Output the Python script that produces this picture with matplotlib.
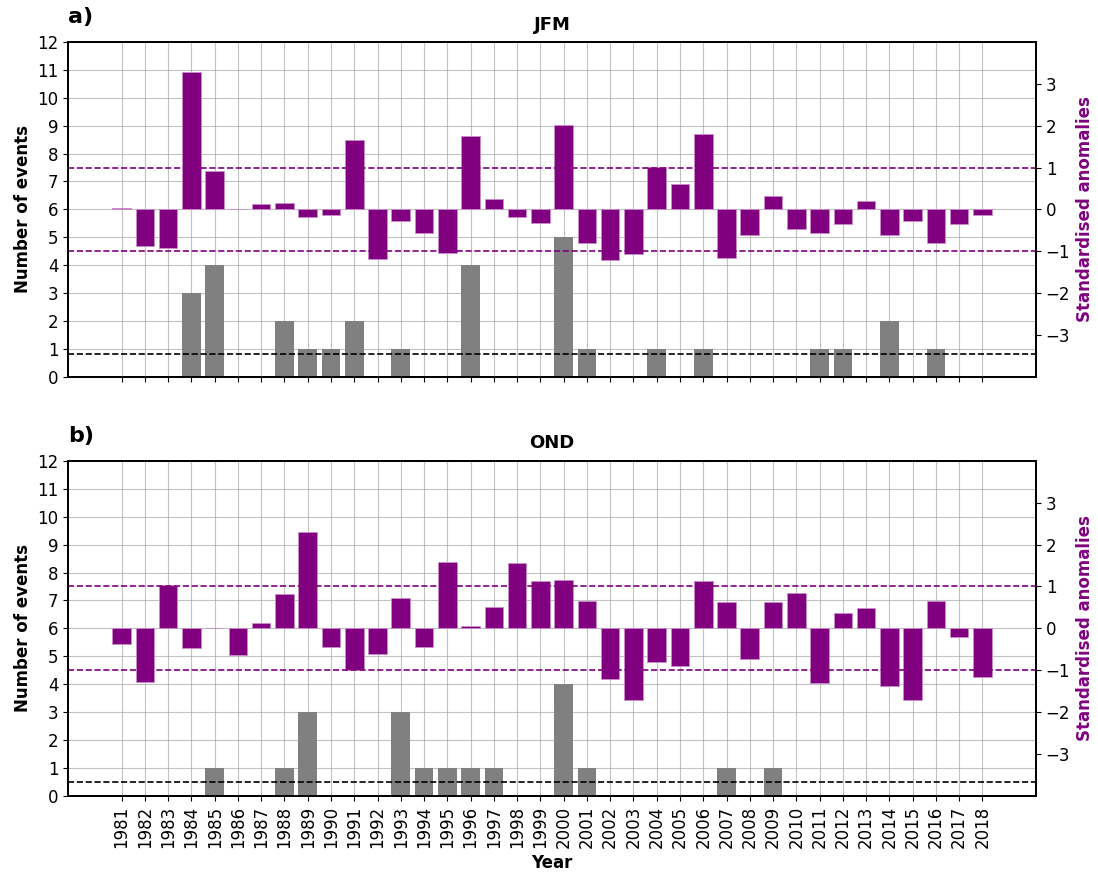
import numpy as np
import matplotlib.pyplot as plt

# years and data
years = np.arange(1981, 2019)

jfm_counts = [0, 0, 0, 3, 4, 0, 0, 2, 1, 1, 2, 0, 1, 0, 0, 4, 0, 0, 0, 5,
              1, 0, 0, 1, 0, 1, 0, 0, 0, 0, 1, 1, 0, 2, 0, 1, 0, 0]
jfm_anom = [0.03, -0.88, -0.92, 3.28, 0.91, 0.01, 0.14, 0.15, -0.19, -0.13,
            1.67, -1.18, -0.28, -0.57, -1.04, 1.76, 0.25, -0.19, -0.33, 2.02,
            -0.80, -1.20, -1.07, 1.01, 0.60, 1.80, -1.16, -0.61, 0.32, -0.46,
            -0.57, -0.36, 0.20, -0.61, -0.27, -0.80, -0.34, -0.13]

ond_counts = [0, 0, 0, 0, 1, 0, 0, 1, 3, 0, 0, 0, 3, 1, 1, 1, 1, 0, 0, 4,
              1, 0, 0, 0, 0, 0, 1, 0, 1, 0, 0, 0, 0, 0, 0, 0, 0, 0]
ond_anom = [-0.37, -1.29, 1.03, -0.47, 0.0, -0.64, 0.14, 0.82, 2.30, -0.44,
            -1.00, -0.60, 0.72, -0.44, 1.58, 0.06, 0.52, 1.55, 1.14, 1.16,
            0.66, -1.21, -1.70, -0.81, -0.90, 1.14, 0.63, -0.72, 0.62, 0.85,
            -1.31, 0.37, 0.49, -1.38, -1.72, 0.66, -0.21, -1.17]

panels = [("a)", "JFM", jfm_counts, jfm_anom),
          ("b)", "OND", ond_counts, ond_anom)]

purple = "#800080"

fig = plt.figure(figsize=(10.98, 8.76), dpi=100)
boxes = [[0.062, 0.570, 0.8815, 0.382], [0.062, 0.0913, 0.8815, 0.3827]]

for i, (lab, title, counts, anom) in enumerate(panels):
    ax = fig.add_axes(boxes[i])
    ax.bar(years, counts, width=0.8, color="grey", zorder=2)
    ax.axhline(np.mean(counts), color="black", ls="--", lw=1.2, zorder=3)
    ax.set_ylim(0, 12)
    ax.set_yticks(range(0, 13))
    ax.set_xlim(1978.7, 2020.3)
    ax.set_xticks(years)
    ax.grid(True, color="#a8a8a8", alpha=0.7, lw=0.8, zorder=0)
    ax.set_axisbelow(True)
    ax.set_ylabel("Number of events", fontsize=12, fontweight="bold")
    ax.set_title(title, fontsize=13, fontweight="bold", pad=9)
    ax.text(0.0, 1.045, lab, transform=ax.transAxes, fontsize=16,
            fontweight="bold", ha="left", va="bottom")
    ax.tick_params(labelsize=12)
    for s in ax.spines.values():
        s.set_linewidth(1.3)
    if i == 0:
        ax.set_xticklabels([])
    else:
        ax.set_xticklabels([str(y) for y in years], rotation=90)
        ax.set_xlabel("Year", fontsize=12, fontweight="bold")

    ax2 = ax.twinx()
    ax2.bar(years, anom, width=0.8, color=purple, edgecolor="#c98fc9",
            linewidth=0.6, zorder=2)
    ax2.axhline(1, color=purple, ls="--", lw=1.2)
    ax2.axhline(-1, color=purple, ls="--", lw=1.2)
    ax2.set_ylim(-4, 4)
    ax2.set_yticks(range(-3, 4))
    ax2.tick_params(labelsize=12)
    ax2.set_ylabel("Standardised anomalies", fontsize=12, fontweight="bold",
                   color=purple)
    for s in ax2.spines.values():
        s.set_linewidth(1.3)

fig.savefig("out.png", dpi=100)
